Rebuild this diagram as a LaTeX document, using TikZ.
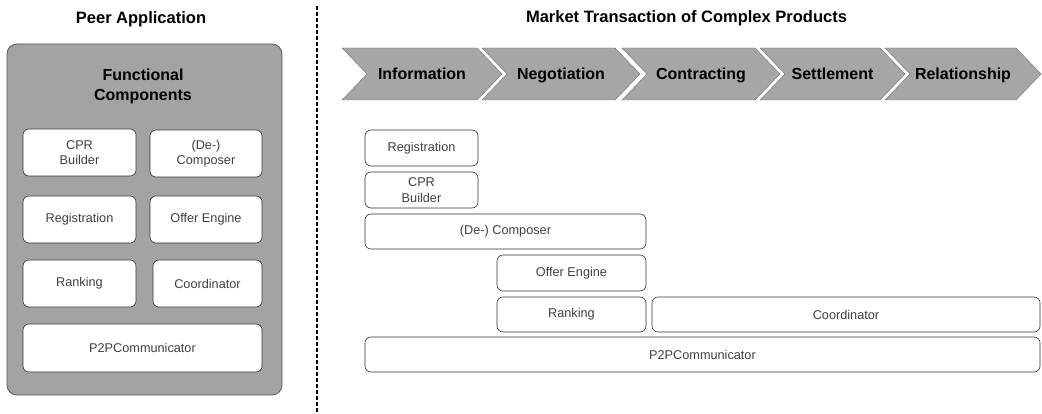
\documentclass[tikz,border=0pt]{standalone}
\usepackage{fontspec}
\setmainfont{Liberation Sans}
\usetikzlibrary{shapes.symbols,positioning}

\begin{document}
\begin{tikzpicture}[
    x=1pt, y=-1pt,
    % Styles
    title/.style={font=\fontsize{16.5}{18}\selectfont\bfseries},
    panel/.style={rectangle, rounded corners=10pt, draw=black!65, fill=gray!72, line width=0.8pt},
    comp/.style={rectangle, rounded corners=6pt, draw=black!80, fill=white, inner sep=0pt, align=center,
        text=black!75, font=\fontsize{12.7}{15.5}\selectfont, line width=0.6pt},
    phase/.style={signal, signal to=east, signal from=west, signal pointer angle=92.3,
        draw=black!55, fill=gray!70, inner sep=0pt, minimum height=52pt,
        text height=11.5pt, text depth=0pt,
        font=\fontsize{16}{18}\selectfont\bfseries},
    divider/.style={dashed, dash pattern=on 4pt off 2pt, line width=1.2pt}
]
\useasboundingbox (0,0) rectangle (1042,414);

% --- Left: Peer Application ---
\node[title] (peer) at (141,19) {Peer Application};
\node[panel, minimum width=275pt, minimum height=351pt] (panel) at (144.5,219.5) {};
\node[align=center, font=\fontsize{16}{20}\selectfont\bfseries] (func) at (143,86) {Functional\\Components};

\node[comp, minimum width=113pt, minimum height=47pt] (cprL) at (79.5,152.5) {CPR\\Builder};
\node[comp, minimum width=112pt, minimum height=47pt] (decompL) at (206,153.5) {(De-)\\Composer};
\node[comp, minimum width=113pt, minimum height=47pt] (regL) at (79.5,219.5) {Registration};
\node[comp, minimum width=112pt, minimum height=47pt] (offerL) at (206,219.5) {Offer Engine};
\node[comp, minimum width=113pt, minimum height=47pt] (rankL) at (79.5,283.5) {Ranking};
\node[comp, minimum width=109pt, minimum height=47pt] (coordL) at (207.5,283.5) {Coordinator};
\node[comp, minimum width=239pt, minimum height=48pt] (p2pL) at (142.5,348) {P2PCommunicator};

% --- Divider ---
\coordinate (divtop) at (317,6);
\coordinate (divbot) at (317,412);
\draw[divider] (divtop) -- (divbot);

% --- Right: Market Transaction ---
\node[title] (market) at (686.5,18.5) {Market Transaction of Complex Products};

\node[phase, minimum width=160pt] (info) at (422,74) {Information};
\node[phase, minimum width=158pt] (nego) at (561,74) {Negotiation};
\node[phase, minimum width=158pt] (contr) at (701,74) {Contracting};
\node[phase, minimum width=145pt] (settl) at (832.5,74) {Settlement};
\node[phase, minimum width=156pt] (relat) at (963,74) {Relationship};

\node[comp, minimum width=113pt, minimum height=36pt] (regR) at (421.5,148) {Registration};
\node[comp, minimum width=113pt, minimum height=36pt] (cprR) at (421.5,190) {CPR\\Builder};
\node[comp, minimum width=281pt, minimum height=35pt] (decompR) at (505.5,231.5) {(De-) Composer};
\node[comp, minimum width=149pt, minimum height=36pt] (offerR) at (571.5,273) {Offer Engine};
\node[comp, minimum width=149pt, minimum height=35pt] (rankR) at (571.5,314.5) {Ranking};
\node[comp, minimum width=388pt, minimum height=35pt] (coordR) at (846,314.5) {Coordinator};
\node[comp, minimum width=675pt, minimum height=35pt] (p2pR) at (702.5,354.5) {P2PCommunicator};

\end{tikzpicture}
\end{document}
